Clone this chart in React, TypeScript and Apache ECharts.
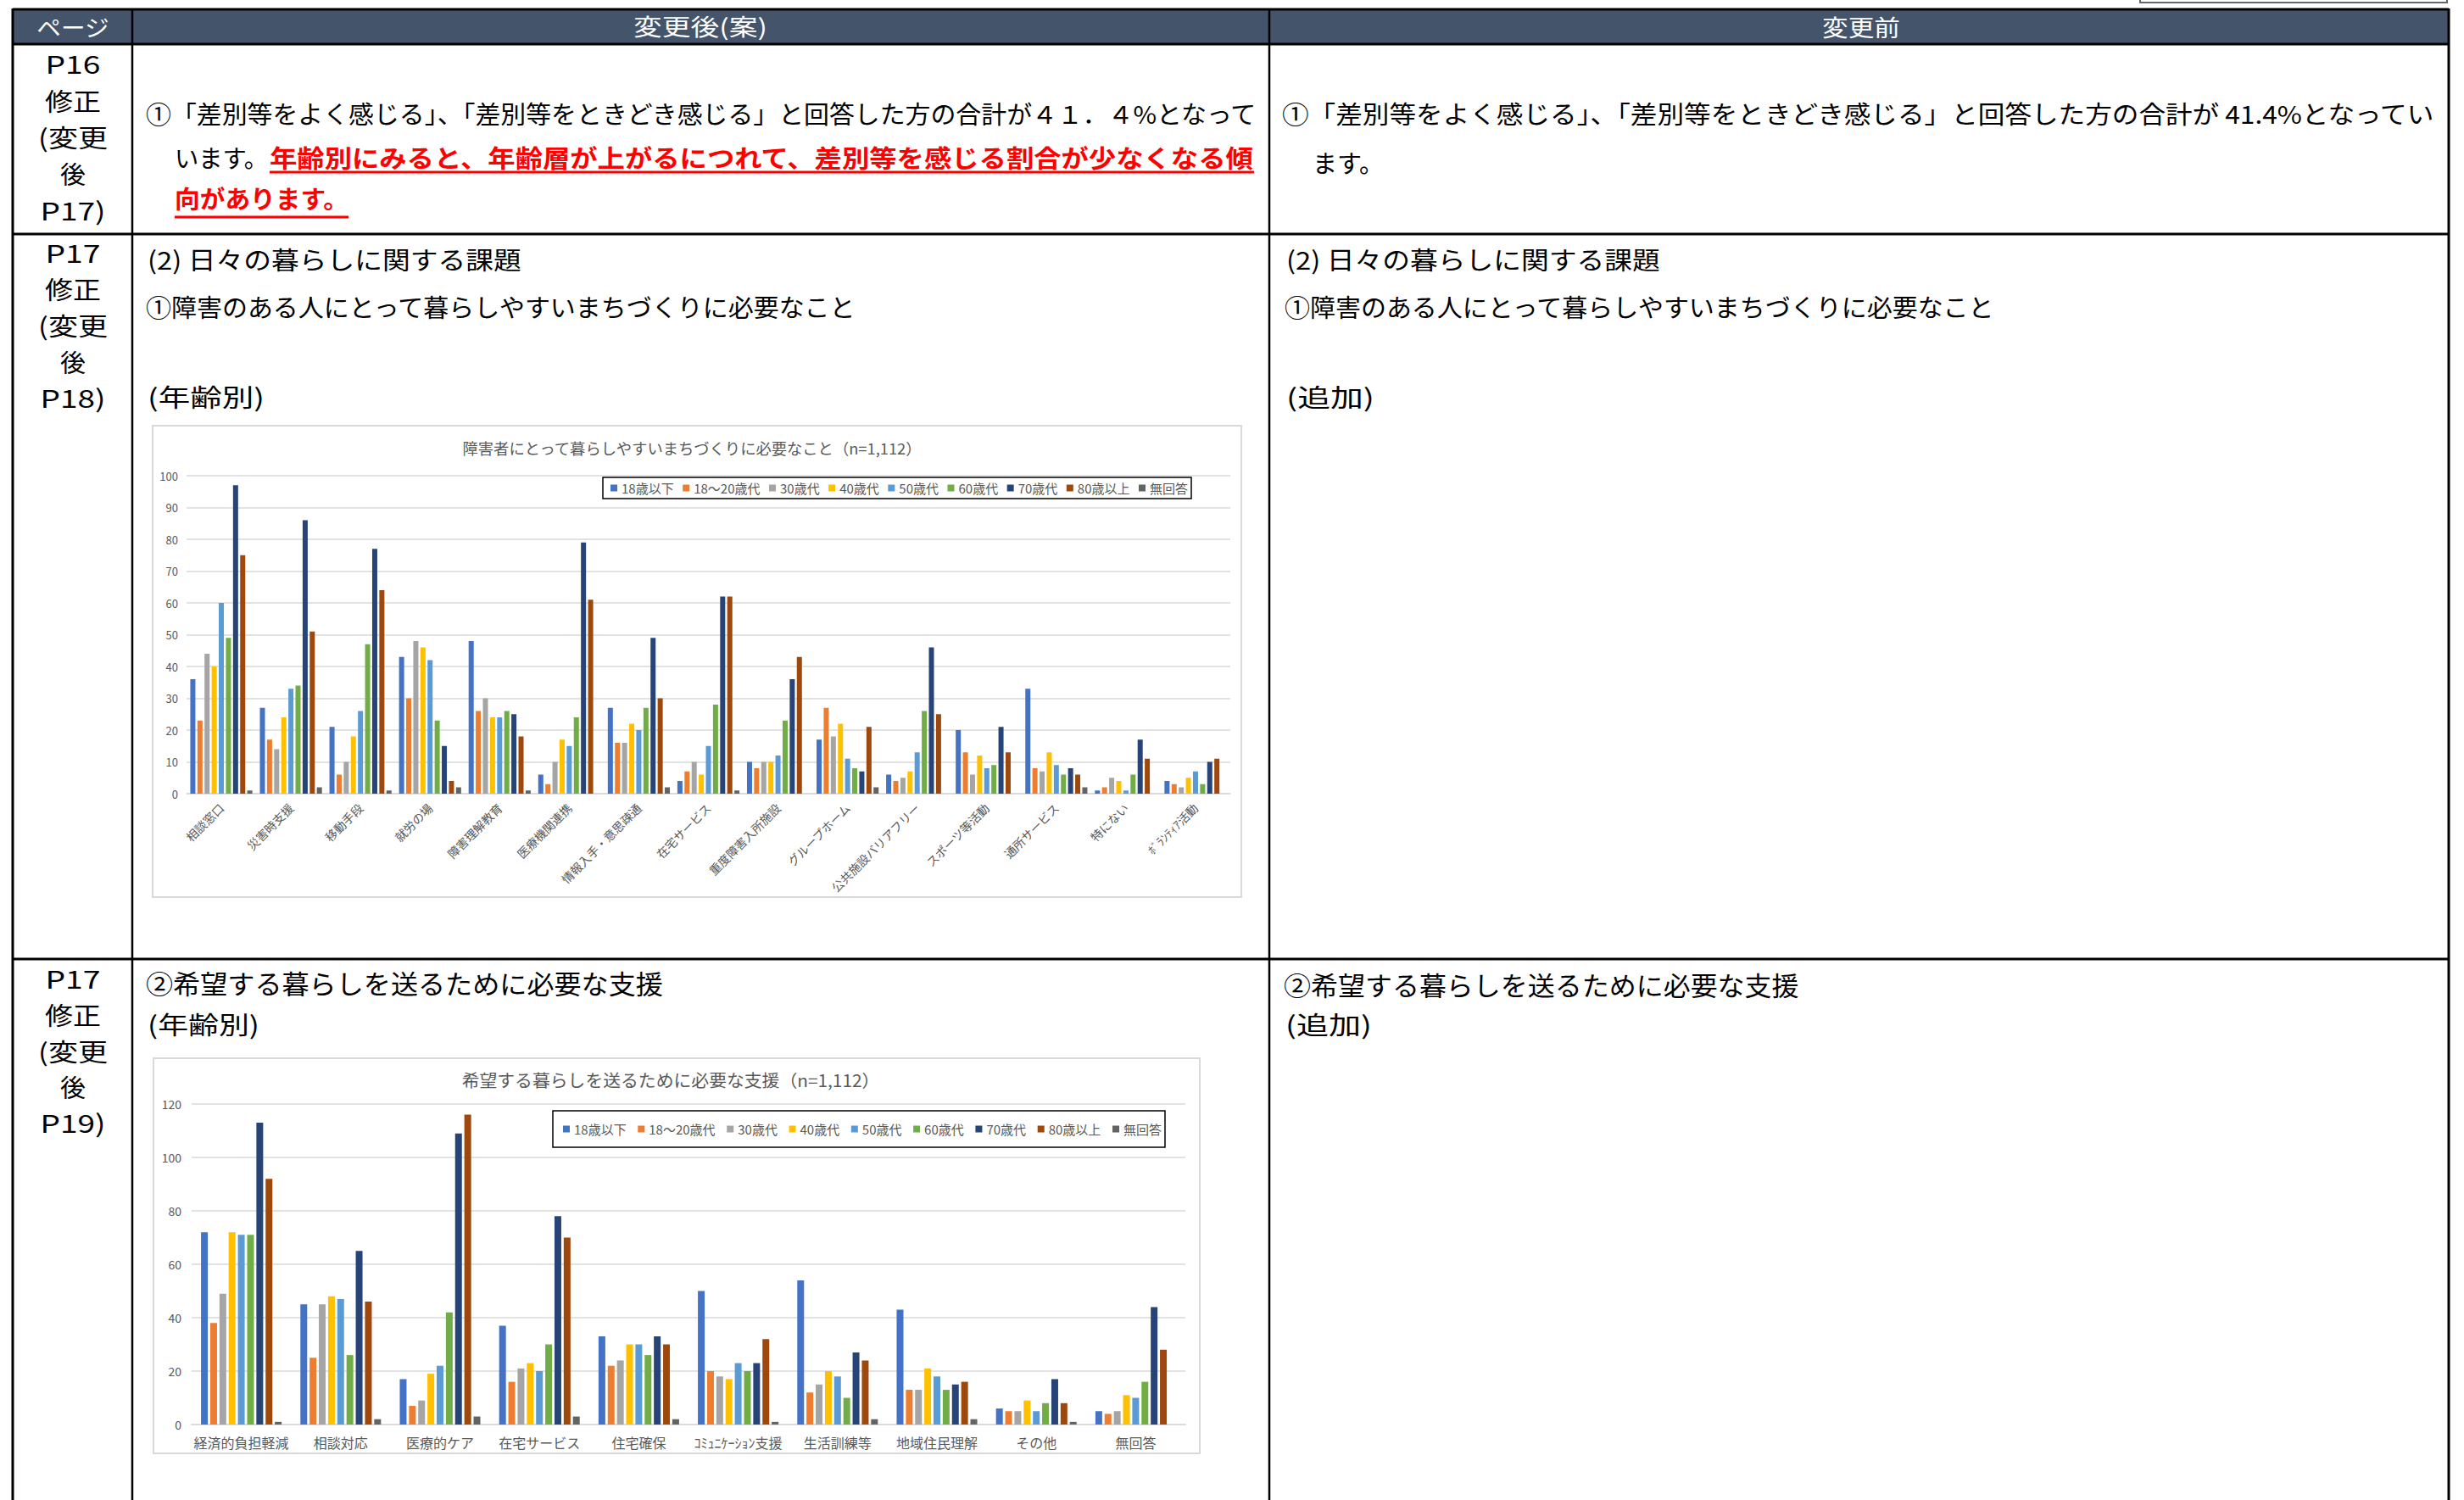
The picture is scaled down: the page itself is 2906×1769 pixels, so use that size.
import React, { useEffect, useRef } from 'react';
import * as echarts from 'echarts';

const FONT = '"Noto Sans CJK JP", "Noto Sans", sans-serif';

// ---- legend / series names ----
const AGE_GROUPS = ['18歳以下', '18～20歳代', '30歳代', '40歳代', '50歳代', '60歳代', '70歳代', '80歳以上', '無回答'];
const AGE_COLORS = ['#4472C4', '#ED7D31', '#A5A5A5', '#FFC000', '#5B9BD5', '#70AD47', '#264478', '#9E480E', '#636363'];

// ---- chart 1: 障害者にとって暮らしやすいまちづくりに必要なこと ----
const townTitle = '障害者にとって暮らしやすいまちづくりに必要なこと（n=1,112）';
const townCategories = ['相談窓口', '災害時支援', '移動手段', '就労の場', '障害理解教育', '医療機関連携', '情報入手・意思疎通', '在宅サービス', '重度障害入所施設', 'グループホーム', '公共施設バリアフリー', 'スポーツ等活動', '通所サービス', '特にない', 'ﾎﾞﾗﾝﾃｨｱ活動'];
const townUnder18 = [36, 27, 21, 43, 48, 6, 27, 4, 10, 17, 6, 20, 33, 1, 4];
const town18to20s = [23, 17, 6, 30, 26, 3, 16, 7, 8, 27, 4, 13, 8, 2, 3];
const town30s = [44, 14, 10, 48, 30, 10, 16, 10, 10, 18, 5, 6, 7, 5, 2];
const town40s = [40, 24, 18, 46, 24, 17, 22, 6, 10, 22, 7, 12, 13, 4, 5];
const town50s = [60, 33, 26, 42, 24, 15, 20, 15, 12, 11, 13, 8, 9, 1, 7];
const town60s = [49, 34, 47, 23, 26, 24, 27, 28, 23, 8, 26, 9, 6, 6, 3];
const town70s = [97, 86, 77, 15, 25, 79, 49, 62, 36, 7, 46, 21, 8, 17, 10];
const town80plus = [75, 51, 64, 4, 18, 61, 30, 62, 43, 21, 25, 13, 6, 11, 11];
const townNoAnswer = [1, 2, 1, 2, 1, 0, 2, 1, 0, 2, 0, 0, 2, 0, 0];
const townTicks = { min: 0, max: 100, interval: 10 };

// ---- chart 2: 希望する暮らしを送るために必要な支援 ----
const supportTitle = '希望する暮らしを送るために必要な支援（n=1,112）';
const supportCategories = ['経済的負担軽減', '相談対応', '医療的ケア', '在宅サービス', '住宅確保', 'ｺﾐｭﾆｹｰｼｮﾝ支援', '生活訓練等', '地域住民理解', 'その他', '無回答'];
const supUnder18 = [72, 45, 17, 37, 33, 50, 54, 43, 6, 5];
const sup18to20s = [38, 25, 7, 16, 22, 20, 12, 13, 5, 4];
const sup30s = [49, 45, 9, 21, 24, 18, 15, 13, 5, 5];
const sup40s = [72, 48, 19, 23, 30, 17, 20, 21, 9, 11];
const sup50s = [71, 47, 22, 20, 30, 23, 18, 18, 5, 10];
const sup60s = [71, 26, 42, 30, 26, 20, 10, 13, 8, 16];
const sup70s = [113, 65, 109, 78, 33, 23, 27, 15, 17, 44];
const sup80plus = [92, 46, 116, 70, 30, 32, 24, 16, 8, 28];
const supNoAnswer = [1, 2, 3, 3, 2, 1, 2, 2, 1, 0];
const supportTicks = { min: 0, max: 120, interval: 20 };

// ---- document texts ----
const headerTexts = ['ページ', '変更後(案)', '変更前'];
const row1Page = ['P16', '修正', '(変更', '後', 'P17)'];
const row2Page = ['P17', '修正', '(変更', '後', 'P18)'];
const row3Page = ['P17', '修正', '(変更', '後', 'P19)'];
const row1NewLine1 = '①「差別等をよく感じる」、「差別等をときどき感じる」と回答した方の合計が４１．４%となって';
const row1NewLine2a = 'います。';
const row1NewLine2b = '年齢別にみると、年齢層が上がるにつれて、差別等を感じる割合が少なくなる傾';
const row1NewLine3 = '向があります。';
const row1OldLine1 = '①「差別等をよく感じる」、「差別等をときどき感じる」と回答した方の合計が 41.4%となってい';
const row1OldLine2 = 'ます。';
const row2Heading = '(2) 日々の暮らしに関する課題';
const row2Sub = '①障害のある人にとって暮らしやすいまちづくりに必要なこと';
const byAge = '(年齢別)';
const added = '(追加)';
const row3Sub = '②希望する暮らしを送るために必要な支援';

let measureCtx: CanvasRenderingContext2D | null = null;
function measure(t: string, size: number, weight = 'normal') {
  if (!measureCtx) measureCtx = document.createElement('canvas').getContext('2d');
  measureCtx!.font = `${weight} ${size}px "Noto Sans CJK JP"`;
  return measureCtx!.measureText(t).width;
}

function T(text: string, x: number, y: number, size: number, o: any = {}) {
  const weight = o.weight || 'normal';
  const sx = o.w ? o.w / Math.max(1, measure(text, size, weight)) : 1;
  return {
    type: 'text',
    x,
    y,
    scaleX: sx,
    z: 10,
    style: {
      text,
      fontSize: size,
      fontFamily: FONT,
      fontWeight: weight,
      fill: o.color || '#000',
      textAlign: o.align || 'left',
      textVerticalAlign: 'middle',
      verticalAlign: 'middle',
    },
  };
}

function L(x1: number, y1: number, x2: number, y2: number, w: number, color = '#000') {
  return { type: 'line', z: 20, shape: { x1, y1, x2, y2 }, style: { stroke: color, lineWidth: w } };
}

function buildOption() {
  const g: any[] = [];
  // small box top right
  g.push({ type: 'rect', z: 1, shape: { x: 2524, y: -10, width: 362, height: 13 }, style: { fill: '#fff', stroke: '#666', lineWidth: 2 } });
  // header band
  g.push({ type: 'rect', z: 1, shape: { x: 15, y: 11, width: 2873, height: 41 }, style: { fill: '#44546A' } });
  // table lines
  g.push(L(15, 11, 2888, 11, 3));
  g.push(L(15, 52, 2888, 52, 3));
  g.push(L(15, 276, 2888, 276, 3));
  g.push(L(15, 1131, 2888, 1131, 3));
  g.push(L(15, 10, 15, 1769, 3));
  g.push(L(156, 10, 156, 1769, 2.5));
  g.push(L(1497, 10, 1497, 1769, 2.5));
  g.push(L(2888, 10, 2888, 1769, 3));
  // header texts
  g.push(T(headerTexts[0], 86, 31, 27, { color: '#fff', align: 'center', w: 86 }));
  g.push(T(headerTexts[1], 826, 31, 27, { color: '#fff', align: 'center', w: 158 }));
  g.push(T(headerTexts[2], 2195, 31, 27, { color: '#fff', align: 'center', w: 92 }));
  // page column
  const pageYs1 = [74, 118, 161, 204, 247];
  const pageYs2 = [297, 340, 383, 426, 468];
  const pageYs3 = [1153, 1196, 1239, 1281, 1323];
  const pageW = [65, 66, 82, 30, 77];
  row1Page.forEach((t, i) => g.push(T(t, 86, pageYs1[i], 29, { align: 'center', w: pageW[i] })));
  row2Page.forEach((t, i) => g.push(T(t, 86, pageYs2[i], 29, { align: 'center', w: pageW[i] })));
  row3Page.forEach((t, i) => g.push(T(t, 86, pageYs3[i], 29, { align: 'center', w: pageW[i] })));
  // row 1
  g.push(T(row1NewLine1, 172, 133, 29, { w: 1313 }));
  g.push(T(row1NewLine2a, 206, 185, 29, { w: 110 }));
  g.push(T(row1NewLine2b, 318, 185, 29, { w: 1161, weight: 'bold', color: '#FF0000' }));
  g.push(L(318, 203, 1479, 203, 3, '#FF0000'));
  g.push(T(row1NewLine3, 206, 233, 29, { w: 205, weight: 'bold', color: '#FF0000' }));
  g.push(L(206, 256, 411, 256, 3, '#FF0000'));
  g.push(T(row1OldLine1, 1512, 134, 29, { w: 1362 }));
  g.push(T(row1OldLine2, 1548, 191, 29));
  // row 2
  g.push(T(row2Heading, 174, 305, 29, { w: 441 }));
  g.push(T(row2Sub, 172, 361, 29, { w: 840 }));
  g.push(T(byAge, 174, 467, 29, { w: 138 }));
  g.push(T(row2Heading, 1517, 305, 29, { w: 441 }));
  g.push(T(row2Sub, 1515, 361, 29, { w: 840 }));
  g.push(T(added, 1517, 467, 29, { w: 104 }));
  // row 3
  g.push(T(row3Sub, 172, 1158, 31, { w: 610 }));
  g.push(T(byAge, 174, 1207, 29, { w: 132 }));
  g.push(T(row3Sub, 1514, 1160, 31, { w: 608 }));
  g.push(T(added, 1516, 1208, 29, { w: 102 }));
  // chart boxes
  g.push({ type: 'rect', z: -100, shape: { x: 180, y: 502, width: 1284, height: 556 }, style: { fill: '#fff', stroke: '#D9D9D9', lineWidth: 2 } });
  g.push({ type: 'rect', z: -100, shape: { x: 181, y: 1248, width: 1234, height: 466 }, style: { fill: '#fff', stroke: '#D9D9D9', lineWidth: 2 } });
  // chart titles
  g.push(T(townTitle, 816, 528, 18, { align: 'center', color: '#595959', w: 543 }));
  g.push(T(supportTitle, 791, 1273, 20, { align: 'center', color: '#595959', w: 493 }));

  // legend gaps fitted to the reference boxes
  const legendFont = 15;
  const sumText = AGE_GROUPS.reduce((s, n) => s + measure(n, legendFont), 0);
  const gap1 = Math.max(2, (694 - 9 - 4 - sumText - 9 * 13) / 8);
  const gap2 = Math.max(2, (722 - 12 - 4 - sumText - 9 * 13) / 8);

  const townData = [townUnder18, town18to20s, town30s, town40s, town50s, town60s, town70s, town80plus, townNoAnswer];
  const supData = [supUnder18, sup18to20s, sup30s, sup40s, sup50s, sup60s, sup70s, sup80plus, supNoAnswer];

  const axisGray = '#D9D9D9';
  const labelGray = '#595959';

  const series: any[] = [];
  townData.forEach((d, i) =>
    series.push({
      type: 'bar', name: AGE_GROUPS[i], xAxisIndex: 0, yAxisIndex: 0, data: d,
      barWidth: 6, barGap: '40%', itemStyle: { color: AGE_COLORS[i] },
    })
  );
  supData.forEach((d, i) =>
    series.push({
      type: 'bar', name: AGE_GROUPS[i], xAxisIndex: 1, yAxisIndex: 1, data: d,
      barWidth: 8, barGap: '36%', itemStyle: { color: AGE_COLORS[i] },
    })
  );

  const legendBase = {
    data: AGE_GROUPS,
    orient: 'horizontal',
    icon: 'rect',
    itemWidth: 8,
    itemHeight: 8,
    borderColor: '#000',
    borderWidth: 1.5,
    backgroundColor: '#fff',
    textStyle: { fontSize: legendFont, color: labelGray, fontFamily: FONT },
  };

  return {
    animation: false,
    backgroundColor: '#fff',
    textStyle: { fontFamily: FONT },
    graphic: { elements: g },
    legend: [
      { ...legendBase, left: 711, top: 563, itemGap: gap1, padding: [5, 4, 5, 9] },
      { ...legendBase, left: 652, top: 1310, itemGap: gap2, padding: [14, 4, 14, 12] },
    ],
    grid: [
      { left: 220, top: 561, width: 1231, height: 375 },
      { left: 226, top: 1302, width: 1172, height: 378 },
    ],
    xAxis: [
      {
        type: 'category', gridIndex: 0, data: townCategories,
        axisLine: { lineStyle: { color: axisGray, width: 1.5 } }, axisTick: { show: false },
        axisLabel: { rotate: 45, interval: 0, fontSize: 14, margin: 14, color: labelGray, fontFamily: FONT },
      },
      {
        type: 'category', gridIndex: 1, data: supportCategories,
        axisLine: { lineStyle: { color: axisGray, width: 1.5 } }, axisTick: { show: false },
        axisLabel: { interval: 0, fontSize: 16, margin: 13, color: labelGray, fontFamily: FONT },
      },
    ],
    yAxis: [
      {
        type: 'value', gridIndex: 0, ...townTicks,
        axisLine: { show: false }, axisTick: { show: false },
        splitLine: { lineStyle: { color: axisGray, width: 1.5 } },
        axisLabel: { fontSize: 13, margin: 10, color: labelGray, fontFamily: FONT },
      },
      {
        type: 'value', gridIndex: 1, ...supportTicks,
        axisLine: { show: false }, axisTick: { show: false },
        splitLine: { lineStyle: { color: axisGray, width: 1.5 } },
        axisLabel: { fontSize: 14, margin: 12, color: labelGray, fontFamily: FONT },
      },
    ],
    series,
  };
}

export default function App() {
  const ref = useRef<HTMLDivElement>(null);
  useEffect(() => {
    if (!ref.current) return;
    const chart = echarts.init(ref.current, null, { renderer: 'svg', width: 2906, height: 1769 });
    chart.setOption(buildOption() as any);
    return () => chart.dispose();
  }, []);
  return (
    <div
      ref={ref}
      style={{ position: 'fixed', left: 0, top: 0, width: 2906, height: 1769, background: '#fff' }}
    />
  );
}
